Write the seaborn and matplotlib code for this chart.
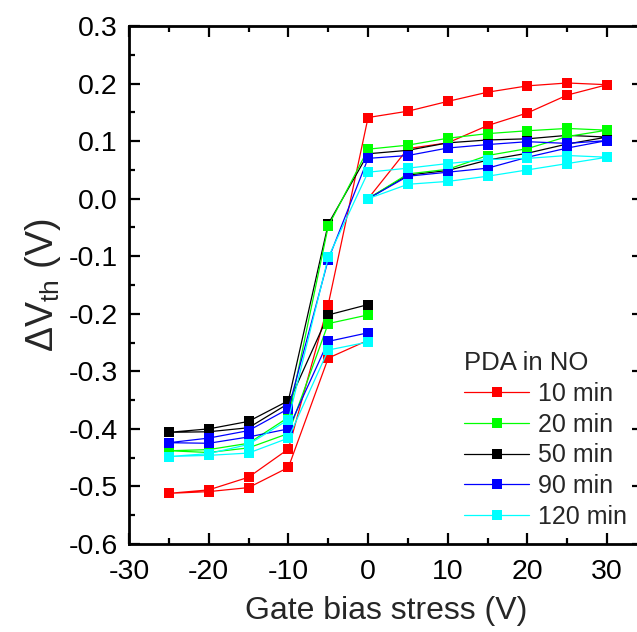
import matplotlib
matplotlib.use("Agg")
import matplotlib.pyplot as plt
from matplotlib.ticker import MultipleLocator, FormatStrFormatter
from matplotlib.lines import Line2D
import seaborn as sns
import pandas as pd

# Gate bias stress sweep: 0 -> +30 -> 0 -> -25 -> 0
gate_bias = [0, 5, 10, 15, 20, 25, 30, 25, 20, 15, 10, 5, 0,
             -5, -10, -15, -20, -25, -20, -15, -10, -5, 0]

dvth_10min = [0, 0.087, 0.097, 0.127, 0.149, 0.180, 0.198, 0.201, 0.196, 0.185, 0.169, 0.152, 0.141,
              -0.184, -0.435, -0.484, -0.506, -0.512, -0.509, -0.502, -0.467, -0.277, -0.246]
dvth_20min = [0, 0.043, 0.051, 0.075, 0.087, 0.108, 0.119, 0.122, 0.118, 0.113, 0.105, 0.093, 0.086,
              -0.048, -0.380, -0.425, -0.436, -0.438, -0.441, -0.433, -0.408, -0.217, -0.202]
dvth_50min = [0, 0.041, 0.049, 0.067, 0.079, 0.095, 0.107, 0.110, 0.104, 0.102, 0.097, 0.084, 0.078,
              -0.044, -0.351, -0.387, -0.400, -0.406, -0.405, -0.398, -0.356, -0.202, -0.184]
dvth_90min = [0, 0.039, 0.046, 0.053, 0.072, 0.088, 0.101, 0.096, 0.099, 0.094, 0.088, 0.075, 0.070,
              -0.106, -0.365, -0.403, -0.416, -0.424, -0.425, -0.414, -0.400, -0.248, -0.233]
dvth_120min = [0, 0.025, 0.030, 0.039, 0.050, 0.061, 0.072, 0.075, 0.070, 0.068, 0.061, 0.053, 0.046,
               -0.102, -0.384, -0.427, -0.443, -0.448, -0.446, -0.442, -0.416, -0.263, -0.249]

series_labels = ["10 min", "20 min", "50 min", "90 min", "120 min"]
series_colors = ["#FF0000", "#00FF00", "#000000", "#0000FF", "#00FFFF"]
series_values = [dvth_10min, dvth_20min, dvth_50min, dvth_90min, dvth_120min]

x_ticks = [-30, -20, -10, 0, 10, 20, 30]
y_ticks = [-0.6, -0.5, -0.4, -0.3, -0.2, -0.1, 0.0, 0.1, 0.2, 0.3]

sns.set_theme(style="ticks")
plt.rcParams["font.family"] = ["Liberation Sans", "DejaVu Sans"]
plt.rcParams["axes.unicode_minus"] = False
plt.rcParams["mathtext.default"] = "regular"

fig = plt.figure(figsize=(6.37, 6.32), dpi=100)
ax = fig.add_axes([129 / 637, 1 - 544 / 632, 514 / 637, 518 / 632])

draw_order = [0, 2, 1, 3, 4]
for i in draw_order:
    df = pd.DataFrame({"bias": gate_bias, "dvth": series_values[i]})
    sns.lineplot(data=df, x="bias", y="dvth", sort=False, estimator=None, ax=ax,
                 color=series_colors[i], linewidth=0.9, marker="s", markersize=7.6,
                 markeredgewidth=0, legend=False)

ax.set_xlim(-30, 34.5)
ax.set_ylim(-0.6, 0.3)
ax.set_xticks(x_ticks)
ax.set_yticks(y_ticks)
ax.xaxis.set_minor_locator(MultipleLocator(5))
ax.yaxis.set_minor_locator(MultipleLocator(0.05))
ax.yaxis.set_major_formatter(FormatStrFormatter("%.1f"))
ax.tick_params(which="both", direction="in", top=True, right=True, width=1.6, colors="black")
ax.tick_params(which="major", length=8, labelsize=20.5)
ax.tick_params(axis="x", which="major", pad=11)
ax.tick_params(axis="y", which="major", pad=8)
ax.tick_params(which="minor", length=4.5)
for s in ax.spines.values():
    s.set_linewidth(2.0)
    s.set_color("black")

ax.set_xlabel("Gate bias stress (V)", fontsize=23, labelpad=8)
ax.set_ylabel("ΔV$_{th}$ (V)", fontsize=27, labelpad=4)

handles = [Line2D([0], [0], color=c, linewidth=0.9, marker="s", markersize=7.6, markeredgewidth=0)
           for c in series_colors]
leg = ax.legend(handles, series_labels, title="PDA in NO", loc="upper left",
                bbox_to_anchor=(464 / 637, 1 - 351 / 632), bbox_transform=fig.transFigure,
                frameon=False, fontsize=18, title_fontsize=18.5, handlelength=2.6,
                handletextpad=0.35, labelspacing=0.27, borderpad=0, borderaxespad=0,
                alignment="left")

fig.savefig("out.png", dpi=100)
